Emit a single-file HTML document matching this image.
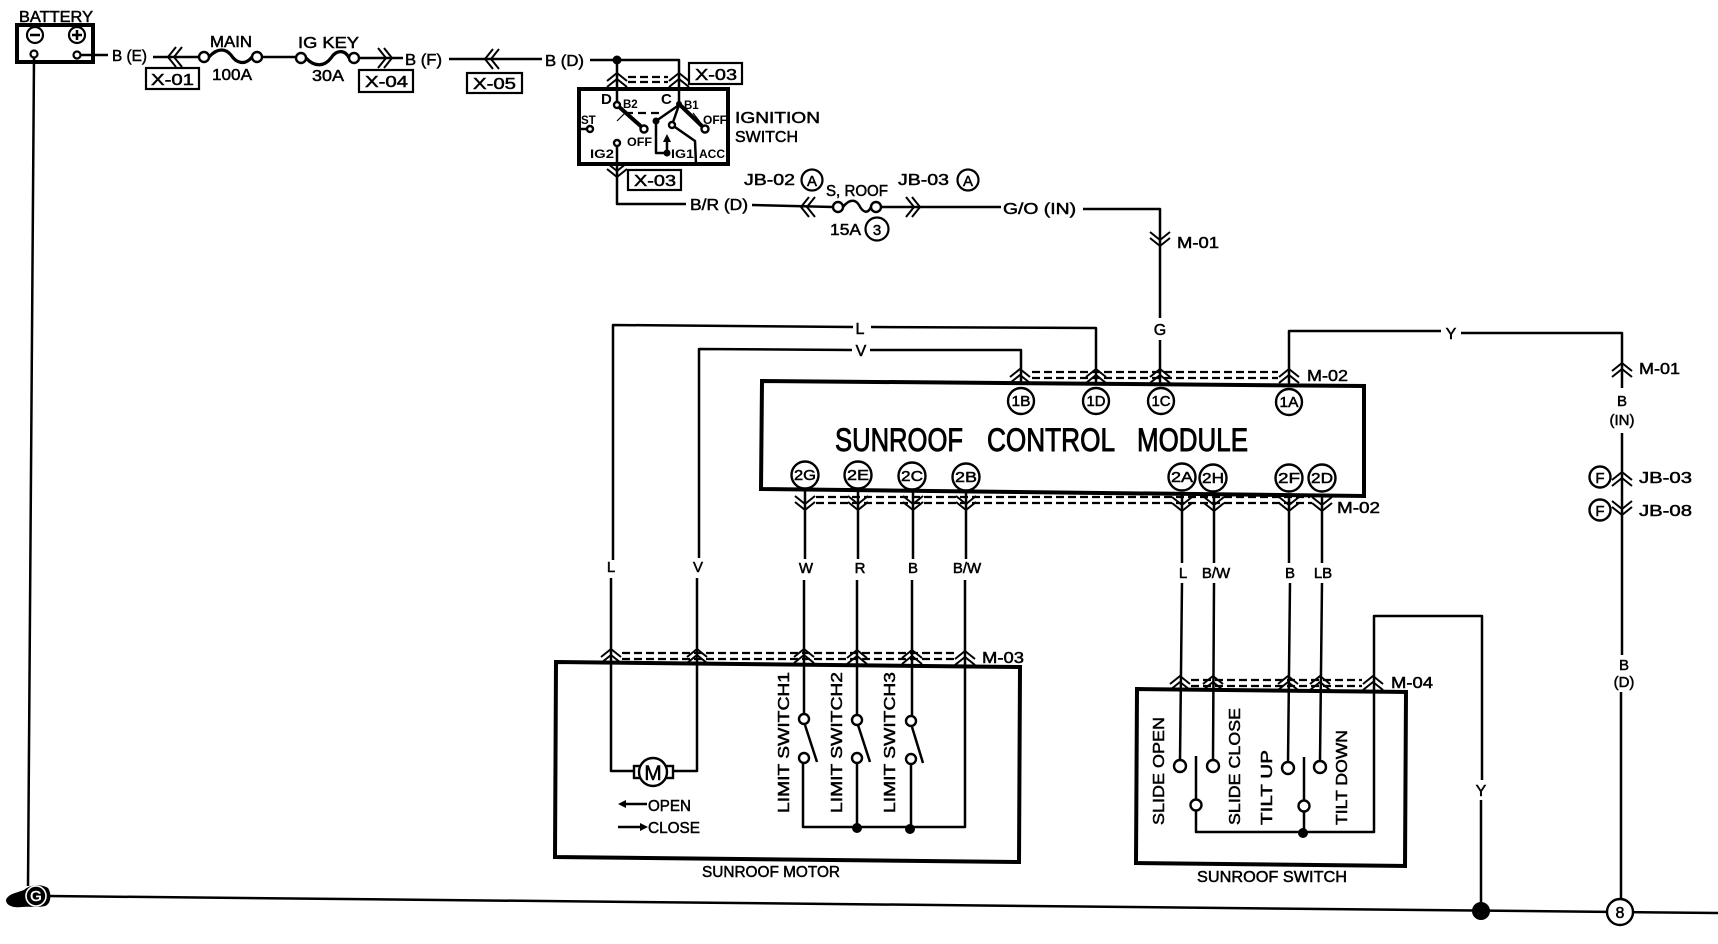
<!DOCTYPE html>
<html><head><meta charset="utf-8"><title>Sunroof wiring diagram</title>
<style>
html,body{margin:0;padding:0;background:#fff}
svg{display:block}
text{font-family:"Liberation Sans",sans-serif;font-size:16px;fill:#000;stroke:#000;stroke-width:.5px}
.b{font-weight:bold;font-size:11.5px;stroke:none}
.c{font-size:15px;text-anchor:middle}
.s{font-size:15px;text-anchor:middle}
.m{text-anchor:middle}
.w{fill:none;stroke:#000;stroke-width:2.5;stroke-linejoin:round}
.bx{fill:none;stroke:#000;stroke-width:2.2}
.h{fill:none;stroke:#000;stroke-width:4;stroke-linejoin:miter}
.o{fill:#fff;stroke:#000;stroke-width:2.4}
.d{fill:none;stroke:#000;stroke-width:2.2;stroke-dasharray:8 4}
.ch{fill:none;stroke:#000;stroke-width:2}
.tt{font-size:32px;stroke-width:.9px}
</style></head><body>
<svg width="1718" height="944" viewBox="0 0 1718 944" xmlns="http://www.w3.org/2000/svg">
<defs>
<g id="u"><path class="ch" d="M-10 3 L0 -5 L10 3 M-10 9 L0 1 L10 9"/></g>
<g id="n"><path class="ch" d="M-10 -3 L0 5 L10 -3 M-10 -9 L0 -1 L10 -9"/></g>
<g id="l"><path class="ch" d="M3 -10 L-5 0 L3 10 M9 -10 L1 0 L9 10"/></g>
<g id="r"><path class="ch" d="M-3 -10 L5 0 L-3 10 M-9 -10 L-1 0 L-9 10"/></g>
</defs>

<!-- battery -->
<text x="19" y="22" textLength="74" lengthAdjust="spacingAndGlyphs">BATTERY</text>
<rect x="17" y="25" width="76" height="37" class="h"/>
<circle cx="35" cy="35" r="8" class="bx"/><path d="M30 35H40" class="w"/>
<circle cx="77" cy="35" r="8" class="bx"/><path d="M72 35H82M77 30V40" class="w"/>
<circle cx="34" cy="54" r="3.5" class="bx"/><circle cx="77" cy="55" r="3.5" class="bx"/>
<path d="M81 55H108" class="w"/>
<path d="M34 58 L28 886" class="w"/>
<text x="112" y="61" textLength="35" lengthAdjust="spacingAndGlyphs">B (E)</text>
<path d="M153 57H199" class="w"/><use href="#l" x="173" y="57"/>
<rect x="146" y="68" width="53" height="21" class="bx"/>
<text x="151" y="85" textLength="43" lengthAdjust="spacingAndGlyphs">X-01</text>
<circle cx="204" cy="57" r="5" class="o"/><circle cx="257" cy="57" r="5" class="o"/>
<path d="M209 57 C218 47,226 49,231 55 C236 63,245 66,252 57" class="w" style="stroke-width:3.2"/>
<text x="210" y="47" textLength="42" lengthAdjust="spacingAndGlyphs">MAIN</text>
<text x="212" y="80" textLength="40" lengthAdjust="spacingAndGlyphs">100A</text>
<path d="M262 57H296" class="w"/>
<circle cx="301" cy="58" r="5" class="o"/><circle cx="354" cy="58" r="5" class="o"/>
<path d="M306 58 C315 68,325 66,331 58 C336 50,345 49,349 58" class="w" style="stroke-width:3.2"/>
<text x="298" y="48" textLength="61" lengthAdjust="spacingAndGlyphs">IG KEY</text>
<text x="312" y="81" textLength="32" lengthAdjust="spacingAndGlyphs">30A</text>
<path d="M359 58H403" class="w"/><use href="#r" x="387" y="58"/>
<rect x="359" y="70" width="54" height="22" class="bx"/>
<text x="365" y="87" textLength="43" lengthAdjust="spacingAndGlyphs">X-04</text>
<text x="405" y="65" textLength="37" lengthAdjust="spacingAndGlyphs">B (F)</text>
<path d="M449 59H542" class="w"/><use href="#l" x="490" y="59"/>
<rect x="467" y="73" width="55" height="20" class="bx"/>
<text x="473" y="89" textLength="43" lengthAdjust="spacingAndGlyphs">X-05</text>
<text x="545" y="66" textLength="39" lengthAdjust="spacingAndGlyphs">B (D)</text>

<!-- ignition switch -->
<path d="M590 60H679V105M617 60V105" class="w"/>
<circle cx="617" cy="60" r="4.5"/>
<use href="#u" x="617" y="78"/><use href="#u" x="679" y="78"/>
<path d="M628 77H668M628 82H668" class="d"/>
<rect x="689" y="63" width="53" height="21" class="bx"/>
<text x="695" y="80" textLength="42" lengthAdjust="spacingAndGlyphs">X-03</text>
<rect x="579" y="89" width="149" height="75" class="h"/>
<text x="601" y="104" class="b" style="font-size:15px">D</text>
<text x="661" y="104" class="b" style="font-size:15px">C</text>
<text x="623" y="108" class="b">B2</text>
<text x="684" y="109" class="b">B1</text>
<text x="703" y="124" class="b" textLength="24" lengthAdjust="spacingAndGlyphs">OFF</text>
<text x="581" y="124" class="b">ST</text>
<text x="627" y="146" class="b" textLength="25" lengthAdjust="spacingAndGlyphs">OFF</text>
<text x="590" y="158" class="b" textLength="24" lengthAdjust="spacingAndGlyphs">IG2</text>
<text x="671" y="158" class="b" textLength="23" lengthAdjust="spacingAndGlyphs">IG1</text>
<text x="699" y="158" class="b" textLength="26" lengthAdjust="spacingAndGlyphs">ACC</text>
<path d="M617 105 L644 129M679 104 L705 129" style="stroke:#000;stroke-width:4;fill:none"/>
<path d="M625 113H660" class="d" style="stroke-dasharray:8 5"/>
<path d="M617 121 L625 113" class="w" style="stroke-width:1.2"/>
<path d="M679 105 L656 121V153H667M679 105 L672 125 L695 141 L696 164M667 140V153" class="w"/>
<path d="M693 113 L700 122" class="w" style="stroke-width:1.2"/>
<circle cx="617" cy="105" r="3" class="o"/><circle cx="679" cy="104" r="3"/>
<circle cx="644" cy="129" r="3.5" class="o"/><circle cx="705" cy="129" r="3.5" class="o"/>
<circle cx="590" cy="129" r="3" class="o"/><path d="M581 129H587" class="w"/>
<circle cx="617" cy="143" r="3" class="o"/>
<circle cx="656" cy="121" r="3.5"/><circle cx="672" cy="125" r="3" class="o"/>
<circle cx="667" cy="153" r="3.5"/><path d="M667 134 L663 142H671Z"/>
<path d="M617 146V204H686" class="w"/><use href="#n" x="617" y="172"/>
<rect x="628" y="170" width="53" height="20" class="bx"/>
<text x="634" y="186" textLength="42" lengthAdjust="spacingAndGlyphs">X-03</text>
<text x="735" y="123" textLength="85" lengthAdjust="spacingAndGlyphs">IGNITION</text>
<text x="735" y="142" textLength="63" lengthAdjust="spacingAndGlyphs">SWITCH</text>
<text x="690" y="210" textLength="58" lengthAdjust="spacingAndGlyphs">B/R (D)</text>
<path d="M752 205 L833 207" class="w"/><use href="#l" x="806" y="207"/>
<circle cx="838" cy="207" r="5" class="o"/><circle cx="876" cy="207" r="5" class="o"/>
<path d="M843 207 C850 198,856 200,859 205 C863 213,868 214,871 207" class="w"/>
<path d="M881 207H1001" class="w"/><use href="#r" x="915" y="207"/>
<text x="744" y="185" textLength="51" lengthAdjust="spacingAndGlyphs">JB-02</text>
<circle cx="812" cy="180" r="10.5" class="bx"/><text x="812" y="186" class="c">A</text>
<text x="826" y="196" textLength="62" lengthAdjust="spacingAndGlyphs">S, ROOF</text>
<text x="898" y="185" textLength="51" lengthAdjust="spacingAndGlyphs">JB-03</text>
<circle cx="968" cy="180" r="10.5" class="bx"/><text x="968" y="186" class="c">A</text>
<text x="830" y="235" textLength="31" lengthAdjust="spacingAndGlyphs">15A</text>
<circle cx="877" cy="229" r="11.5" class="bx"/><text x="877" y="235" class="c">3</text>
<text x="1003" y="214" textLength="73" lengthAdjust="spacingAndGlyphs">G/O (IN)</text>
<path d="M1083 209H1160V318" class="w"/><use href="#n" x="1160" y="241"/>
<text x="1177" y="248" textLength="42" lengthAdjust="spacingAndGlyphs">M-01</text>
<text x="1160" y="335" class="m">G</text>
<path d="M1160 340V384" class="w"/>

<!-- upper wires -->
<path d="M613 560V325 L853 327M871 327 L1096 328V384" class="w"/>
<text x="860" y="334" class="m">L</text>
<path d="M699 558V349 L852 350M870 350H1021V384" class="w"/>
<text x="861" y="356" class="m">V</text>
<path d="M1289 385V331H1441M1461 333H1622V388" class="w"/>
<text x="1451" y="339" class="m">Y</text>
<use href="#u" x="1020" y="374"/><use href="#u" x="1096" y="374"/><use href="#u" x="1160" y="374"/><use href="#u" x="1289" y="374"/>
<path d="M1032 372H1278M1032 378H1278" class="d"/>
<text x="1307" y="381" textLength="41" lengthAdjust="spacingAndGlyphs">M-02</text>

<!-- module -->
<path d="M762 381 L1364 386 V496 L761 489Z" class="h"/>
<text x="835" y="451" class="tt" textLength="128" lengthAdjust="spacingAndGlyphs">SUNROOF</text>
<text x="987" y="451" class="tt" textLength="128" lengthAdjust="spacingAndGlyphs">CONTROL</text>
<text x="1137" y="451" class="tt" textLength="111" lengthAdjust="spacingAndGlyphs">MODULE</text>
<g>
<circle cx="1021" cy="401" r="13" class="o"/><text x="1021" y="406" class="c" textLength="19" lengthAdjust="spacingAndGlyphs">1B</text>
<circle cx="1096" cy="401" r="13" class="o"/><text x="1096" y="406" class="c" textLength="19" lengthAdjust="spacingAndGlyphs">1D</text>
<circle cx="1161" cy="401" r="13" class="o"/><text x="1161" y="406" class="c" textLength="19" lengthAdjust="spacingAndGlyphs">1C</text>
<circle cx="1289" cy="402" r="13" class="o"/><text x="1289" y="407" class="c" textLength="19" lengthAdjust="spacingAndGlyphs">1A</text>
<circle cx="805" cy="475" r="13.5" class="o"/><text x="805" y="480" class="c" textLength="22" lengthAdjust="spacingAndGlyphs">2G</text>
<circle cx="858" cy="475" r="13.5" class="o"/><text x="858" y="480" class="c" textLength="22" lengthAdjust="spacingAndGlyphs">2E</text>
<circle cx="912" cy="476" r="13.5" class="o"/><text x="912" y="481" class="c" textLength="22" lengthAdjust="spacingAndGlyphs">2C</text>
<circle cx="966" cy="477" r="13.5" class="o"/><text x="966" y="482" class="c" textLength="22" lengthAdjust="spacingAndGlyphs">2B</text>
<circle cx="1182" cy="477" r="13.5" class="o"/><text x="1182" y="482" class="c" textLength="22" lengthAdjust="spacingAndGlyphs">2A</text>
<circle cx="1213" cy="478" r="13.5" class="o"/><text x="1213" y="483" class="c" textLength="22" lengthAdjust="spacingAndGlyphs">2H</text>
<circle cx="1289" cy="478" r="13.5" class="o"/><text x="1289" y="483" class="c" textLength="22" lengthAdjust="spacingAndGlyphs">2F</text>
<circle cx="1322" cy="478" r="13.5" class="o"/><text x="1322" y="483" class="c" textLength="22" lengthAdjust="spacingAndGlyphs">2D</text>
</g>

<!-- lower connector row -->
<path d="M805 491V559M858 491V559M913 492V559M966 493V559M1182 494V563M1214 494V563M1289 495V563M1322 495V563" class="w"/>
<use href="#n" x="805" y="505"/><use href="#n" x="858" y="505"/><use href="#n" x="913" y="505"/><use href="#n" x="966" y="505"/>
<use href="#n" x="1182" y="506"/><use href="#n" x="1214" y="506"/><use href="#n" x="1289" y="506"/><use href="#n" x="1322" y="506"/>
<path d="M816 497H1310M816 503H1312" class="d"/>
<text x="1337" y="513" textLength="43" lengthAdjust="spacingAndGlyphs">M-02</text>
<text x="806" y="573" class="s">W</text>
<text x="860" y="573" class="s">R</text>
<text x="913" y="573" class="s">B</text>
<text x="967" y="573" class="s">B/W</text>
<text x="1183" y="578" class="s">L</text>
<text x="1216" y="578" class="s">B/W</text>
<text x="1290" y="578" class="s">B</text>
<text x="1323" y="578" class="s">LB</text>
<text x="611" y="572" class="s">L</text>
<text x="698" y="572" class="s">V</text>

<!-- motor -->
<path d="M804 580V714M857 580V715M912 580V716M965 580V827H803V763M857 763V828M911 764V829" class="w"/>
<path d="M556 662 L1020 667 L1019 862 L555 857Z" class="h"/>
<path d="M611 578V771H634M697 578V771H672" class="w"/>
<use href="#u" x="611" y="654"/><use href="#u" x="697" y="654"/><use href="#u" x="804" y="654"/><use href="#u" x="857" y="655"/><use href="#u" x="912" y="655"/><use href="#u" x="965" y="656"/>
<path d="M622 653H955M622 659H955" class="d"/>
<text x="982" y="663" textLength="42" lengthAdjust="spacingAndGlyphs">M-03</text>
<rect x="634" y="766" width="7" height="12" class="o"/><rect x="666" y="766" width="7" height="12" class="o"/>
<circle cx="653" cy="772" r="14" class="o"/>
<text x="653" y="780" class="m" style="font-size:21px">M</text>
<path d="M621 804H647" class="w"/><path d="M618 804 L626 800V808Z"/>
<path d="M618 827H644" class="w"/><path d="M648 827 L640 823V831Z"/>
<text x="648" y="811" textLength="43" lengthAdjust="spacingAndGlyphs">OPEN</text>
<text x="648" y="833" textLength="52" lengthAdjust="spacingAndGlyphs">CLOSE</text>
<circle cx="804" cy="719" r="5" class="o"/><circle cx="804" cy="758" r="5" class="o"/><path d="M805 725 L817 762" class="w"/>
<circle cx="857" cy="720" r="5" class="o"/><circle cx="857" cy="758" r="5" class="o"/><path d="M858 725 L870 762" class="w"/>
<circle cx="911" cy="721" r="5" class="o"/><circle cx="911" cy="759" r="5" class="o"/><path d="M912 727 L923 763" class="w"/>
<circle cx="857" cy="828" r="5"/><circle cx="910" cy="829" r="5"/>
<text transform="translate(789,813) rotate(-90)" textLength="141" lengthAdjust="spacingAndGlyphs">LIMIT SWITCH1</text>
<text transform="translate(842,813) rotate(-90)" textLength="141" lengthAdjust="spacingAndGlyphs">LIMIT SWITCH2</text>
<text transform="translate(895,813) rotate(-90)" textLength="141" lengthAdjust="spacingAndGlyphs">LIMIT SWITCH3</text>
<text x="702" y="877" textLength="138" lengthAdjust="spacingAndGlyphs">SUNROOF MOTOR</text>

<!-- sunroof switch -->
<path d="M1182 583 L1180 760M1214 583 L1213 760M1290 583 L1288 762M1322 583 L1320 761" class="w"/>
<path d="M1137 689 L1406 692 L1405 866 L1136 863Z" class="h"/>
<path d="M1196 756V832H1374V616H1482V780M1481 800V905M1304 757V832" class="w"/>
<use href="#u" x="1180" y="681"/><use href="#u" x="1213" y="681"/><use href="#u" x="1288" y="681"/><use href="#u" x="1320" y="681"/><use href="#u" x="1373" y="681"/>
<path d="M1191 680H1362M1191 686H1362" class="d"/>
<text x="1391" y="688" textLength="42" lengthAdjust="spacingAndGlyphs">M-04</text>
<circle cx="1180" cy="766" r="6" class="o"/><circle cx="1213" cy="766" r="6" class="o"/><circle cx="1288" cy="768" r="6" class="o"/><circle cx="1320" cy="767" r="6" class="o"/>
<circle cx="1196" cy="805" r="5.5" class="o"/><circle cx="1304" cy="806" r="5.5" class="o"/>
<circle cx="1303" cy="833" r="5"/>
<text transform="translate(1164,825) rotate(-90)" textLength="108" lengthAdjust="spacingAndGlyphs">SLIDE OPEN</text>
<text transform="translate(1240,825) rotate(-90)" textLength="117" lengthAdjust="spacingAndGlyphs">SLIDE CLOSE</text>
<text transform="translate(1272,825) rotate(-90)" textLength="75" lengthAdjust="spacingAndGlyphs">TILT UP</text>
<text transform="translate(1347,825) rotate(-90)" textLength="95" lengthAdjust="spacingAndGlyphs">TILT DOWN</text>
<text x="1197" y="882" textLength="150" lengthAdjust="spacingAndGlyphs">SUNROOF SWITCH</text>
<text x="1481" y="796" class="m">Y</text>

<!-- right wire -->
<use href="#u" x="1622" y="368"/>
<text x="1639" y="374" textLength="41" lengthAdjust="spacingAndGlyphs">M-01</text>
<text x="1622" y="406" class="s">B</text>
<text x="1622" y="425" class="s">(IN)</text>
<path d="M1622 433V655M1621 692V899" class="w"/>
<use href="#u" x="1622" y="477"/><use href="#n" x="1622" y="510"/>
<circle cx="1600" cy="477" r="10.5" class="o"/><text x="1600" y="483" class="c">F</text>
<circle cx="1600" cy="510" r="10.5" class="o"/><text x="1600" y="516" class="c">F</text>
<text x="1639" y="483" textLength="53" lengthAdjust="spacingAndGlyphs">JB-03</text>
<text x="1639" y="516" textLength="53" lengthAdjust="spacingAndGlyphs">JB-08</text>
<text x="1624" y="670" class="s">B</text>
<text x="1624" y="687" class="s">(D)</text>

<!-- ground -->
<path d="M48 896 L1718 913" class="w"/>
<path d="M6 900 C8 894,16 893,24 890 C30 884,42 884,48 888 C52 894,51 904,45 906 C36 908,28 906,22 907 C14 908,6 906,6 900Z"/>
<circle cx="36" cy="896" r="10" fill="none" stroke="#fff" stroke-width="1.6"/>
<text x="36" y="901" class="c" style="fill:#fff;stroke:#fff">G</text>
<circle cx="1481" cy="911" r="9"/>
<circle cx="1620" cy="912" r="13" class="o"/>
<text x="1620" y="918" class="c" style="font-size:16px">8</text>
</svg>
</body></html>
